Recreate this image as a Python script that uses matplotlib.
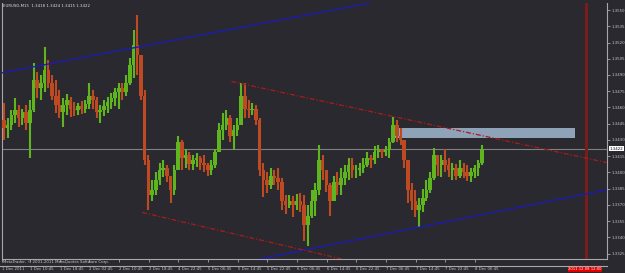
import matplotlib
matplotlib.use("Agg")
import matplotlib.pyplot as plt
from matplotlib.patches import Rectangle
from matplotlib.transforms import blended_transform_factory

first_open = 1.3448
high = [1.3464, 1.3450, 1.3458, 1.3469, 1.3462, 1.3459, 1.3462, 1.3467, 1.3501, 1.3493,
        1.3490, 1.3516, 1.3504, 1.3490, 1.3485, 1.3476, 1.3469, 1.3472, 1.3470, 1.3465,
        1.3464, 1.3466, 1.3467, 1.3483, 1.3476, 1.3470, 1.3462, 1.3467, 1.3470, 1.3473,
        1.3478, 1.3483, 1.3483, 1.3490, 1.3506, 1.3532, 1.3545, 1.3508, 1.3476, 1.3416,
        1.3393, 1.3400, 1.3409, 1.3411, 1.3407, 1.3395, 1.3407, 1.3434, 1.3430, 1.3422,
        1.3419, 1.3416, 1.3418, 1.3415, 1.3416, 1.3409, 1.3411, 1.3422, 1.3446, 1.3455,
        1.3458, 1.3453, 1.3444, 1.3450, 1.3483, 1.3483, 1.3467, 1.3464, 1.3462, 1.3450,
        1.3409, 1.3400, 1.3404, 1.3402, 1.3404, 1.3395, 1.3379, 1.3379, 1.3378, 1.3380,
        1.3381, 1.3379, 1.3370, 1.3384, 1.3390, 1.3425, 1.3416, 1.3402, 1.3390, 1.3397,
        1.3400, 1.3404, 1.3407, 1.3413, 1.3413, 1.3407, 1.3409, 1.3413, 1.3419, 1.3416,
        1.3424, 1.3425, 1.3422, 1.3424, 1.3432, 1.3451, 1.3448, 1.3441, 1.3430, 1.3409,
        1.3390, 1.3384, 1.3376, 1.3385, 1.3393, 1.3400, 1.3423, 1.3416, 1.3416, 1.3422,
        1.3413, 1.3409, 1.3408, 1.3411, 1.3409, 1.3407, 1.3404, 1.3407, 1.3411, 1.3425]
low = [1.3430, 1.3432, 1.3439, 1.3446, 1.3442, 1.3444, 1.3439, 1.3413, 1.3456, 1.3469,
       1.3467, 1.3474, 1.3478, 1.3467, 1.3455, 1.3450, 1.3442, 1.3453, 1.3451, 1.3452,
       1.3453, 1.3454, 1.3455, 1.3459, 1.3459, 1.3450, 1.3446, 1.3452, 1.3455, 1.3459,
       1.3461, 1.3459, 1.3467, 1.3471, 1.3481, 1.3487, 1.3490, 1.3467, 1.3407, 1.3365,
       1.3374, 1.3379, 1.3388, 1.3396, 1.3391, 1.3372, 1.3379, 1.3402, 1.3402, 1.3404,
       1.3402, 1.3402, 1.3405, 1.3402, 1.3400, 1.3397, 1.3398, 1.3404, 1.3421, 1.3430,
       1.3439, 1.3428, 1.3421, 1.3434, 1.3444, 1.3450, 1.3450, 1.3453, 1.3444, 1.3397,
       1.3377, 1.3381, 1.3385, 1.3388, 1.3384, 1.3365, 1.3362, 1.3367, 1.3359, 1.3365,
       1.3363, 1.3337, 1.3332, 1.3358, 1.3360, 1.3379, 1.3393, 1.3382, 1.3360, 1.3374,
       1.3379, 1.3379, 1.3388, 1.3393, 1.3395, 1.3395, 1.3397, 1.3399, 1.3405, 1.3404,
       1.3408, 1.3413, 1.3413, 1.3415, 1.3413, 1.3427, 1.3428, 1.3425, 1.3404, 1.3372,
       1.3365, 1.3359, 1.3350, 1.3363, 1.3374, 1.3381, 1.3393, 1.3397, 1.3396, 1.3400,
       1.3396, 1.3393, 1.3393, 1.3395, 1.3395, 1.3392, 1.3391, 1.3395, 1.3397, 1.3407]
close = [1.3441, 1.3444, 1.3453, 1.3458, 1.3450, 1.3456, 1.3446, 1.3458, 1.3485, 1.3478,
         1.3483, 1.3495, 1.3483, 1.3471, 1.3462, 1.3456, 1.3462, 1.3467, 1.3459, 1.3458,
         1.3461, 1.3459, 1.3463, 1.3471, 1.3467, 1.3456, 1.3458, 1.3461, 1.3465, 1.3469,
         1.3474, 1.3478, 1.3474, 1.3483, 1.3499, 1.3518, 1.3508, 1.3471, 1.3411, 1.3379,
         1.3384, 1.3393, 1.3402, 1.3404, 1.3397, 1.3384, 1.3402, 1.3428, 1.3413, 1.3416,
         1.3408, 1.3411, 1.3413, 1.3409, 1.3407, 1.3402, 1.3407, 1.3419, 1.3439, 1.3444,
         1.3450, 1.3434, 1.3439, 1.3444, 1.3471, 1.3459, 1.3458, 1.3459, 1.3448, 1.3402,
         1.3393, 1.3388, 1.3397, 1.3395, 1.3391, 1.3374, 1.3370, 1.3374, 1.3370, 1.3374,
         1.3370, 1.3351, 1.3360, 1.3374, 1.3384, 1.3411, 1.3402, 1.3388, 1.3374, 1.3391,
         1.3388, 1.3395, 1.3400, 1.3407, 1.3402, 1.3402, 1.3404, 1.3407, 1.3413, 1.3411,
         1.3419, 1.3421, 1.3419, 1.3421, 1.3428, 1.3444, 1.3434, 1.3430, 1.3411, 1.3384,
         1.3374, 1.3365, 1.3370, 1.3376, 1.3384, 1.3395, 1.3416, 1.3407, 1.3411, 1.3407,
         1.3402, 1.3404, 1.3397, 1.3404, 1.3400, 1.3397, 1.3400, 1.3404, 1.3409, 1.3422]

last_price = 1.3422
title = "EURUSD,M15  1.3418 1.3424 1.3415 1.3422"
price_ticks = [1.3325, 1.3340, 1.3355, 1.3370, 1.3385, 1.3400, 1.3415, 1.3430,
               1.3445, 1.3460, 1.3475, 1.3490, 1.3505, 1.3520, 1.3535, 1.3550]
time_labels = ["1 Dec 2011", "1 Dec 10:45", "1 Dec 18:45", "2 Dec 02:45", "2 Dec 10:45",
               "2 Dec 18:45", "4 Dec 22:45", "5 Dec 06:45", "5 Dec 14:45", "5 Dec 22:45",
               "6 Dec 06:45", "6 Dec 14:45", "6 Dec 22:45", "7 Dec 06:45", "7 Dec 14:45",
               "7 Dec 22:45", "8 Dec 06:45"]

# drawn objects (bar index, price)
upper_blue = ([-0.5, 99.5], [1.3492, 1.3557])
lower_blue = ([69.0, 162.7], [1.3320, 1.3384])
upper_red = ([61.4, 162.7], [1.3484, 1.3409])
lower_red = ([37.3, 100.0], [1.3363, 1.3313])
zone = (104.9, 154.1, 1.3432, 1.3441)
vline_bar = 157.1

BG = "#29292f"
GRID = "#a8a8a8"
BULL = "#5fb51e"
BEAR = "#bf4a22"
FONT = "DejaVu Sans"
FS = 2.8

fig = plt.figure(figsize=(6.25, 2.73), dpi=100, facecolor=BG)
ax = fig.add_axes([2 / 625, 1 - 259 / 273, 605 / 625, 256 / 273])
ax.set_facecolor(BG)

n = len(close)
opn = [first_open] + close[:-1]
xs = list(range(n))
cols = [BULL if c >= o else BEAR for o, c in zip(opn, close)]
ax.vlines(xs, low, high, colors=cols, lw=1.5, zorder=3)
bottoms = [min(o, c) for o, c in zip(opn, close)]
heights = [max(abs(c - o), 0.00005) for o, c in zip(opn, close)]
ax.bar(xs, heights, bottom=bottoms, width=0.95, color=cols, lw=0, zorder=3)

ax.plot(*upper_blue, color="#1c1cb0", lw=1.0, zorder=4)
ax.plot(*lower_blue, color="#1c1cb0", lw=1.0, zorder=4)
ax.plot(*upper_red, color="#a81c1c", lw=0.9, dashes=(4, 1.5, 1, 1.5), zorder=4)
ax.plot(*lower_red, color="#a81c1c", lw=0.9, dashes=(4, 1.5, 1, 1.5), zorder=4)
ax.add_patch(Rectangle((zone[0], zone[2]), zone[1] - zone[0], zone[3] - zone[2],
                       facecolor="#8ea3b8", edgecolor="none", zorder=2))
ax.axhline(last_price, color="#808080", lw=0.8, zorder=2)
ax.axvline(vline_bar, color="#7a1c1c", lw=2.2, zorder=2)

ax.set_xlim(-0.5, 162.7)
ax.set_ylim(1.33200, 1.35565)

ax.spines["top"].set_visible(False)
for s in ["left", "right", "bottom"]:
    ax.spines[s].set_color(GRID)
    ax.spines[s].set_linewidth(0.8)

ax.yaxis.tick_right()
ax.set_yticks(price_ticks)
ax.set_yticklabels([f"{p:.4f}" for p in price_ticks], fontsize=FS, color="#c8c8c8",
                   family=FONT)
ax.tick_params(axis="y", length=2, width=0.6, color=GRID, pad=1.0)

tpos = [-0.5] + [7.1 + 8 * j for j in range(len(time_labels) - 1)]
ax.set_xticks(tpos)
ax.set_xticklabels(time_labels, fontsize=FS, color="#c8c8c8", family=FONT, ha="left")
ax.tick_params(axis="x", length=2, width=0.6, color=GRID, pad=4.0)

tr = blended_transform_factory(ax.transAxes, ax.transData)
ax.text(1.004, last_price, f"{last_price:.4f}", transform=tr, fontsize=FS, family=FONT,
        color="black", va="center", ha="left",
        bbox=dict(facecolor="white", edgecolor="none", pad=0.5))

fig.text(3 / 625, 1 - 6 / 273, title, fontsize=FS, family=FONT, color="#e0e0e0",
         va="center", ha="left")
fig.text(3 / 625, 1 - 262 / 273, "MetaTrader, \u00a9 2001-2011 MetaQuotes Software Corp.",
         fontsize=FS, family=FONT, color="#d0d0d0", va="center", ha="left")
fig.add_artist(plt.Line2D([0, 607 / 625], [1 - 265.5 / 273] * 2, color=GRID, lw=0.8))
fig.text(585 / 625, 1 - 269.5 / 273, "2011.12.08 12:00", fontsize=2.7, family=FONT,
         color="white", va="center", ha="center",
         bbox=dict(facecolor="#e00000", edgecolor="none", pad=0.5))

fig.savefig("out.png", dpi=100, facecolor=BG)
